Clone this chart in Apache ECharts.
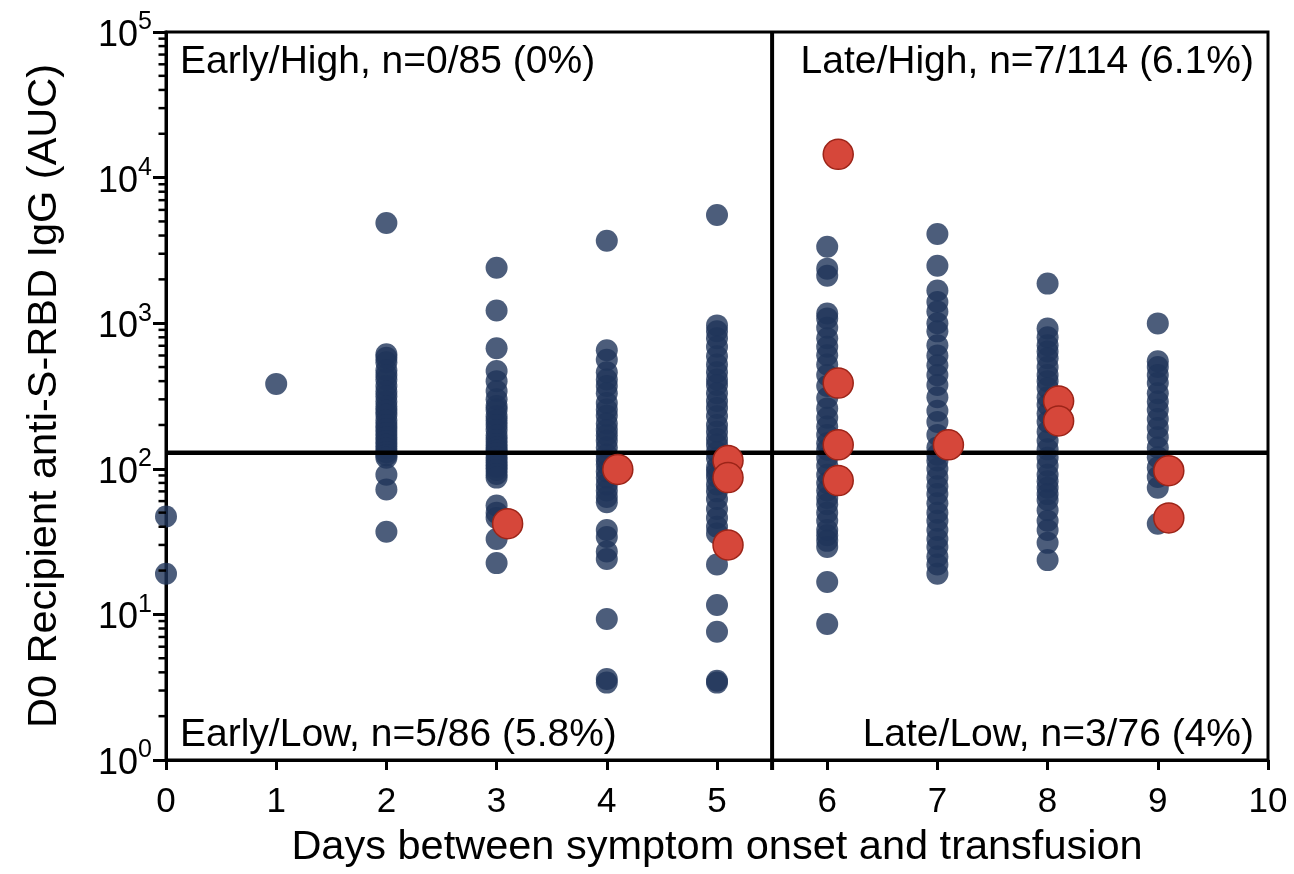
<!DOCTYPE html>
<html>
<head>
<meta charset="utf-8">
<script src="https://cdn.jsdelivr.net/npm/echarts@6/dist/echarts.min.js"></script>
<style>
  html, body { margin: 0; padding: 0; background: #fff; }
  #chart { width: 1294px; height: 874px; }
</style>
</head>
<body>
<div id="chart"></div>
<script>
// D0 recipient anti-S-RBD IgG (AUC) by days between symptom onset and transfusion
const xTicks = [0, 1, 2, 3, 4, 5, 6, 7, 8, 9, 10];
const yDecades = [1, 10, 100, 1000, 10000, 100000];

// Titer cut-off (horizontal) and early/late split (vertical)
const titerCutoff = 129;
const daySplit = 5.5;

// Recipients (blue), grouped by day
const blueDay0 = [47, 19];
const blueDay1 = [383];
const blueDay2 = [4880, 612, 580, 540, 475, 440, 410, 370, 340, 315, 290, 268, 250, 235, 215, 200, 188, 176, 165, 155, 146, 138, 130, 124, 119, 91, 72, 37];
const blueDay3 = [2405, 1223, 673, 469, 400, 342, 300, 270, 254, 230, 215, 200, 185, 169, 158, 148, 140, 133, 128, 120, 114, 108, 103, 98, 92, 87, 56, 50, 46, 33, 22.5];
const blueDay4 = [3680, 652, 560, 461, 410, 370, 330, 283, 255, 231, 205, 185, 170, 156, 140, 125, 115, 107, 96, 87, 78, 71, 64, 59, 38, 34, 27, 24, 9.3, 3.6, 3.4];
const blueDay5 = [5540, 966, 880, 787, 690, 593, 520, 460, 410, 376, 330, 292, 262, 230, 200, 180, 160, 146, 130, 118, 102, 95, 88, 78, 70, 62, 53, 46, 40, 36, 22, 11.6, 7.6, 3.5, 3.4];
const blueDay6 = [3350, 2370, 2120, 1167, 1079, 930, 787, 690, 603, 520, 440, 370, 306, 260, 224, 195, 171, 150, 135, 119, 105, 91, 80, 71, 63, 57, 50, 44, 38, 35, 32, 29, 16.7, 8.6];
const blueDay7 = [4100, 2480, 1675, 1400, 1205, 1000, 879, 705, 600, 515, 440, 376, 310, 250, 210, 171, 140, 125, 114, 100, 87, 76, 67, 58, 50, 44, 38, 33, 29, 25, 22, 19];
const blueDay8 = [1870, 921, 800, 705, 640, 575, 500, 440, 400, 359, 310, 275, 240, 210, 180, 156, 136, 119, 105, 91, 82, 74, 67, 61, 52, 44, 38, 31, 23.6];
const blueDay9 = [997, 548, 500, 440, 388, 330, 290, 254, 220, 191, 165, 140, 120, 102, 88, 74, 42];

// Highlighted recipients (red)
const redDays = [3, 4, 5, 5, 5, 6, 6, 6, 6, 7, 8, 8, 9, 9];
const redValues = [42, 99, 114, 87, 30, 14450, 388, 146, 83, 146, 292, 213, 97, 46];

// Quadrant captions
const quadrantLabels = [
  'Early/High, n=0/85 (0%)',
  'Late/High, n=7/114 (6.1%)',
  'Early/Low, n=5/86 (5.8%)',
  'Late/Low, n=3/76 (4%)'
];

const xTitle = 'Days between symptom onset and transfusion';
const yTitle = 'D0 Recipient anti-S-RBD IgG (AUC)';

// ---- build series data ----
const blueByDay = [blueDay0, blueDay1, blueDay2, blueDay3, blueDay4, blueDay5, blueDay6, blueDay7, blueDay8, blueDay9];
const blueData = [];
blueByDay.forEach((vals, day) => vals.forEach(v => blueData.push([day, v])));

const RED_NUDGE = 0.1; // red markers sit just right of their day column
const redData = redDays.map((d, i) => [d + RED_NUDGE, redValues[i]]);

// log-axis minor ticks at 2..9 within each decade
const minorTickValues = [];
for (let i = 0; i < yDecades.length - 1; i++) {
  for (let m = 2; m <= 9; m++) minorTickValues.push(yDecades[i] * m);
}

const FONT = '"Liberation Sans", Arial, Helvetica, sans-serif';
const chart = echarts.init(document.getElementById('chart'), null, { renderer: 'canvas' });

const gridLeft = 166, gridTop = 32, gridRight = 26, gridBottom = 110;

chart.setOption({
  animation: false,
  backgroundColor: '#ffffff',
  grid: {
    left: gridLeft, top: gridTop, right: gridRight, bottom: gridBottom,
    show: true, borderColor: '#000', borderWidth: 3, backgroundColor: 'transparent'
  },
  xAxis: {
    type: 'value',
    min: xTicks[0], max: xTicks[xTicks.length - 1], interval: 1,
    axisLine: { show: true, onZero: false, lineStyle: { color: '#000', width: 3 } },
    axisTick: { show: true, inside: false, length: 10, lineStyle: { color: '#000', width: 3 } },
    splitLine: { show: false },
    axisLabel: { color: '#000', fontFamily: FONT, fontSize: 35, margin: 25 },
    name: xTitle,
    nameLocation: 'middle',
    nameGap: 67,
    nameTextStyle: { color: '#000', fontFamily: FONT, fontSize: 41.5 }
  },
  yAxis: {
    type: 'log', logBase: 10,
    min: yDecades[0], max: yDecades[yDecades.length - 1],
    axisLine: { show: true, onZero: false, lineStyle: { color: '#000', width: 3 } },
    axisTick: { show: true, inside: false, length: 13, lineStyle: { color: '#000', width: 3 } },
    splitLine: { show: false },
    axisLabel: {
      margin: 14,
      formatter: v => '{b|10}{s|' + Math.round(Math.log10(v)) + '}',
      rich: {
        b: { fontFamily: FONT, fontSize: 36, color: '#000', lineHeight: 44, verticalAlign: 'bottom' },
        s: { fontFamily: FONT, fontSize: 25, color: '#000', lineHeight: 44, verticalAlign: 'top' }
      }
    },
    name: yTitle,
    nameLocation: 'middle',
    nameGap: 100,
    nameRotate: 90,
    nameTextStyle: { color: '#000', fontFamily: FONT, fontSize: 41.5 }
  },
  series: [
    {
      name: 'Recipients',
      type: 'scatter',
      z: 2,
      symbol: 'circle',
      symbolSize: 22,
      itemStyle: { color: 'rgb(31,52,90)', opacity: 0.8 },
      data: blueData
    },
    {
      name: 'axis decoration and cut-offs',
      type: 'custom',
      silent: true,
      clip: false,
      z: 3,
      data: [[daySplit, titerCutoff]],
      encode: { x: 0, y: 1 },
      renderItem: (params, api) => {
        const xs = api.value(0), ys = api.value(1);
        const hL = api.coord([xTicks[0], ys]);
        const hR = api.coord([xTicks[xTicks.length - 1], ys]);
        const vT = api.coord([xs, yDecades[yDecades.length - 1]]);
        const vB = api.coord([xs, yDecades[0]]);
        const children = [
          { type: 'line', shape: { x1: hL[0], y1: hL[1], x2: hR[0], y2: hR[1] }, style: { stroke: '#000', lineWidth: 4.5 } },
          { type: 'line', shape: { x1: vT[0], y1: vT[1], x2: vB[0], y2: vB[1] + 10 }, style: { stroke: '#000', lineWidth: 4 } }
        ];
        minorTickValues.forEach(v => {
          const p = api.coord([xTicks[0], v]);
          children.push({ type: 'line', shape: { x1: p[0] - 7.5, y1: p[1], x2: p[0], y2: p[1] }, style: { stroke: '#000', lineWidth: 2.5 } });
        });
        return { type: 'group', children };
      }
    },
    {
      name: 'Highlighted',
      type: 'scatter',
      z: 4,
      symbol: 'circle',
      symbolSize: 30,
      itemStyle: { color: '#d6473a', borderColor: '#9c2418', borderWidth: 1.5, opacity: 1 },
      data: redData
    }
  ],
  graphic: [
    { type: 'text', x: 180, y: 62, style: { text: quadrantLabels[0], font: '39px ' + FONT, fill: '#000', align: 'left', verticalAlign: 'middle' } },
    { type: 'text', x: 1254, y: 62, style: { text: quadrantLabels[1], font: '39px ' + FONT, fill: '#000', align: 'right', verticalAlign: 'middle' } },
    { type: 'text', x: 180, y: 735, style: { text: quadrantLabels[2], font: '39px ' + FONT, fill: '#000', align: 'left', verticalAlign: 'middle' } },
    { type: 'text', x: 1254, y: 735, style: { text: quadrantLabels[3], font: '39px ' + FONT, fill: '#000', align: 'right', verticalAlign: 'middle' } }
  ]
});
</script>
</body>
</html>
